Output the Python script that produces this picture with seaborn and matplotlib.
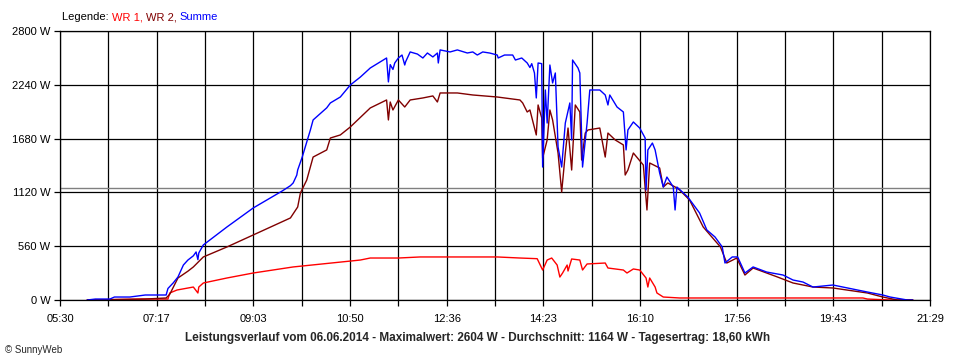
import matplotlib
matplotlib.use("Agg")
import matplotlib.pyplot as plt
import pandas as pd
import seaborn as sns

# --- data (time of day, watts) ---
summe_t = ["06:00", "06:09", "06:25", "06:30", "06:47", "07:04", "07:27", "07:29", "07:35", "07:40",
           "07:46", "07:51", "07:57", "08:00", "08:02", "08:03", "08:08", "08:34", "09:03", "09:35",
           "09:44", "09:47", "09:51", "09:52", "09:57", "10:06", "10:09", "10:24", "10:28", "10:39",
           "10:50", "11:01", "11:12", "11:30", "11:32", "11:34", "11:37", "11:39", "11:43", "11:47",
           "11:50", "11:51", "11:56", "12:04", "12:10", "12:15", "12:21", "12:26", "12:27", "12:29",
           "12:40", "12:48", "12:59", "13:05", "13:10", "13:16", "13:24", "13:32", "13:33", "13:40",
           "13:49", "13:52", "13:59", "14:05", "14:08", "14:10", "14:13", "14:15", "14:17", "14:21",
           "14:22", "14:25", "14:27", "14:30", "14:33", "14:36", "14:39", "14:43", "14:47", "14:52",
           "14:54", "14:55", "15:01", "15:03", "15:05", "15:06", "15:11", "15:14", "15:25", "15:31",
           "15:34", "15:36", "15:44", "15:51", "15:54", "15:56", "16:02", "16:09", "16:15", "16:16",
           "16:18", "16:23", "16:26", "16:31", "16:35", "16:39", "16:46", "16:48", "16:50", "17:02",
           "17:15", "17:23", "17:32", "17:40", "17:43", "17:51", "17:57", "18:05", "18:14", "18:29",
           "18:47", "18:58", "19:09", "19:20", "19:42", "19:58", "20:20", "20:37", "20:45", "21:04",
           "21:10"]
summe_w = [0, 10, 10, 31, 31, 52, 52, 120, 180, 239,
           364, 416, 460, 500, 420, 490, 573, 760, 958, 1135,
           1190, 1218, 1300, 1353, 1488, 1770, 1874, 2000, 2051, 2113,
           2238, 2320, 2415, 2519, 2270, 2450, 2400, 2467, 2519, 2550,
           2446, 2480, 2582, 2560, 2519, 2571, 2530, 2571, 2467, 2603,
           2582, 2603, 2571, 2582, 2550, 2582, 2570, 2550, 2519, 2550,
           2550, 2498, 2519, 2467, 2420, 2460, 2363, 2103, 2467, 2460,
           1384, 2186, 1842, 2446, 2259, 2363, 1593, 1384, 1842, 2051,
           1666, 2498, 2415, 2363, 1697, 1384, 1842, 2186, 2186, 2134,
           2030, 2134, 2009, 1957, 1562, 1770, 1853, 1790, 1686, 1145,
           1562, 1634, 1562, 1322, 1176, 1280, 1176, 937, 1176, 1072,
           906, 729, 656, 552, 385, 448, 448, 281, 344, 291,
           260, 208, 187, 135, 156, 125, 83, 52, 31, 0,
           0]

wr2_t = ["06:00", "07:04", "07:27", "07:31", "07:40", "07:51", "07:57", "08:08", "08:34", "09:03",
         "09:44", "09:52", "09:55", "10:02", "10:09", "10:24", "10:28", "10:39", "10:50", "11:12",
         "11:30", "11:32", "11:34", "11:37", "11:43", "11:50", "11:56", "12:10", "12:21", "12:26",
         "12:29", "12:48", "13:05", "13:32", "13:40", "13:57", "14:00", "14:05", "14:08", "14:15",
         "14:17", "14:21", "14:22", "14:27", "14:30", "14:33", "14:39", "14:43", "14:47", "14:50",
         "14:54", "14:58", "15:03", "15:05", "15:09", "15:12", "15:25", "15:31", "15:34", "15:42",
         "15:51", "15:53", "15:56", "16:02", "16:13", "16:17", "16:20", "16:31", "16:35", "16:40",
         "16:50", "16:53", "17:04", "17:19", "17:38", "17:45", "17:56", "18:05", "18:14", "18:41",
         "18:58", "19:20", "19:42", "20:20", "20:37", "20:53", "21:10"]
wr2_w = [0, 10, 21, 60, 229, 300, 344, 448, 552, 677,
         854, 968, 1114, 1249, 1488, 1562, 1686, 1718, 1801, 1999,
         2082, 1874, 2061, 1978, 2082, 2009, 2082, 2103, 2124, 2061,
         2155, 2155, 2134, 2113, 2103, 2082, 2051, 1957, 1978, 1718,
         2030, 1895, 1478, 1666, 1978, 1874, 1530, 1124, 1530, 1790,
         1353, 2030, 1957, 1457, 1738, 1770, 1790, 1488, 1738, 1666,
         1614, 1301, 1353, 1530, 1405, 937, 1426, 1374, 1176, 1218,
         1166, 1145, 1041, 760, 552, 385, 437, 260, 333, 239,
         177, 135, 125, 73, 31, 0, 0]

wr1_t = ["06:00", "07:04", "07:29", "07:31", "07:39", "07:57", "08:02", "08:03", "08:08", "08:34",
         "09:03", "09:47", "11:01", "11:12", "11:43", "12:07", "13:32", "13:57", "14:16", "14:22",
         "14:27", "14:32", "14:38", "14:41", "14:44", "14:49", "14:50", "14:54", "15:03", "15:06",
         "15:11", "15:31", "15:34", "15:51", "15:55", "16:02", "16:09", "16:16", "16:18", "16:20",
         "16:26", "16:28", "16:35", "16:53", "20:15", "20:20", "20:45", "21:10"]
wr1_w = [0, 10, 10, 73, 104, 135, 73, 135, 177, 229,
         281, 344, 416, 437, 437, 448, 448, 437, 430, 312,
         416, 437, 364, 239, 281, 364, 302, 427, 416, 312,
         375, 385, 333, 312, 281, 323, 312, 229, 135, 229,
         135, 73, 31, 21, 21, 10, 0, 0]

x_ticklabels = ["05:30", "07:17", "09:03", "10:50", "12:36", "14:23", "16:10", "17:56", "19:43", "21:29"]
y_ticks = [0, 560, 1120, 1680, 2240, 2800]
average_w = 1164

series = ["WR 1", "WR 2", "Summe"]
colors = {"WR 1": "#ff0000", "WR 2": "#800000", "Summe": "#0000ff"}


def to_min(s):
    h, m = s.split(":")
    return int(h) * 60 + int(m)


frames = []
for name, ts, ws in [("WR 1", wr1_t, wr1_w), ("WR 2", wr2_t, wr2_w), ("Summe", summe_t, summe_w)]:
    frames.append(pd.DataFrame({"minute": [to_min(t) for t in ts], "watt": ws, "series": name}))
df = pd.concat(frames, ignore_index=True)

sns.set_style("white")
plt.rcParams["font.family"] = ["Liberation Sans", "DejaVu Sans"]

fig = plt.figure(figsize=(9.6, 3.6), dpi=100)
ax = fig.add_axes([60 / 960, 60 / 360, 870 / 960, 269 / 360])

x0, x1 = to_min("05:30"), to_min("05:30") + 959
ax.axhline(average_w, color="#808080", lw=1.0, zorder=1.5)

sns.lineplot(data=df, x="minute", y="watt", hue="series", hue_order=series, palette=colors,
             estimator=None, lw=1.0, legend=False, ax=ax)

step = (x1 - x0) / 9
ax.set_xlim(x0, x1)
ax.set_ylim(0, 2800)
ax.set_xticks([x0 + i * step for i in range(10)])
ax.set_xticklabels(x_ticklabels)
ax.set_xticks([x0 + (i + 0.5) * step for i in range(9)], minor=True)
ax.set_yticks(y_ticks)
ax.set_yticklabels([f"{v} W" for v in y_ticks])
ax.set_xlabel("")
ax.set_ylabel("")

ax.grid(which="both", color="black", lw=0.9)
ax.set_axisbelow(True)
for sp in ax.spines.values():
    sp.set_color("black")
    sp.set_linewidth(0.9)
ax.tick_params(which="both", direction="out", bottom=True, left=True, length=4, width=0.9,
               colors="black", labelsize=8, pad=3)
ax.tick_params(axis="x", pad=6)

# coloured legend line at the top
fig.canvas.draw()
renderer = fig.canvas.get_renderer()
xpos = 62
for txt, col in [("Legende: ", "black"), ("WR 1, ", colors["WR 1"]),
                 ("WR 2, ", colors["WR 2"]), ("Summe", colors["Summe"])]:
    t = fig.text(xpos / 960, 1 - 17 / 360, txt, color=col, fontsize=8, va="center", ha="left")
    xpos += t.get_window_extent(renderer).width

fig.text(478 / 960, 1 - 338 / 360,
         "Leistungsverlauf vom 06.06.2014 - Maximalwert: 2604 W - Durchschnitt: 1164 W - Tagesertrag: 18,60 kWh",
         fontsize=8.5, fontweight="bold", ha="center", va="center")
fig.text(5 / 960, 1 - 350 / 360, "© SunnyWeb", fontsize=7, ha="left", va="center")

fig.savefig("out.png", dpi=100, facecolor="white")
